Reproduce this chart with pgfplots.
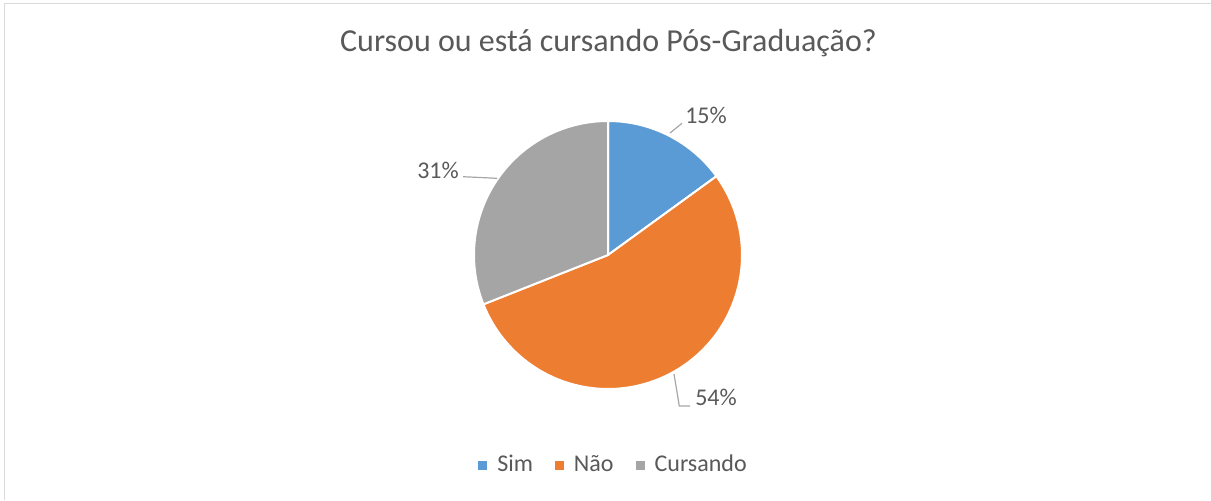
\documentclass[border=0pt]{standalone}
\usepackage{fontspec}
\setmainfont{Carlito}
\usepackage{pgfplots}
\pgfplotsset{compat=1.18}

\definecolor{simblue}{HTML}{5B9BD5}
\definecolor{naoorange}{HTML}{ED7D31}
\definecolor{curgray}{HTML}{A5A5A5}
\definecolor{txt}{HTML}{595959}
\definecolor{leader}{HTML}{A6A6A6}
\definecolor{frame}{HTML}{D9D9D9}

% shares in percent
\def\vSim{15}
\def\vNao{54}
\def\vCur{31}

\begin{document}
\begin{tikzpicture}
\pgfmathsetmacro\aA{90}
\pgfmathsetmacro\aB{\aA-3.6*\vSim}
\pgfmathsetmacro\aC{\aB-3.6*\vNao}
\pgfmathsetmacro\aD{\aC-3.6*\vCur}
\begin{axis}[
  scale only axis,
  width=605.5pt, height=250pt,
  xmin=0, xmax=1211, ymin=0, ymax=500,
  hide axis, clip=false,
  samples=80,
  legend columns=3,
  legend style={draw=none, at={(axis cs:614.5,35)}, anchor=center,
    font=\fontsize{12}{14}\selectfont, text=txt,
    /tikz/every odd column/.append style={column sep=3pt},
    /tikz/every even column/.append style={column sep=9pt}},
  legend image code/.code={\fill[#1, draw=none] (0pt,-2.25pt) rectangle (4.5pt,2.25pt);},
]
\addplot[fill=simblue, draw=white, line width=1pt, domain=\aB:\aA]
  ({608+134*cos(x)}, {245+134*sin(x)}) -- (axis cs:608,245) -- cycle;
\addlegendentry{Sim}
\addplot[fill=naoorange, draw=white, line width=1pt, domain=\aC:\aB]
  ({608+134*cos(x)}, {245+134*sin(x)}) -- (axis cs:608,245) -- cycle;
\addlegendentry{Não}
\addplot[fill=curgray, draw=white, line width=1pt, domain=\aD:\aC]
  ({608+134*cos(x)}, {245+134*sin(x)}) -- (axis cs:608,245) -- cycle;
\addlegendentry{Cursando}

% frame
\draw[frame, line width=0.75pt] (axis cs:4.5,0) -- (axis cs:4.5,496.5) -- (axis cs:1211,496.5);

% title
\node[anchor=base, text=txt, font=\fontsize{16}{19}\selectfont, inner sep=0pt]
  at (axis cs:608.5,448.3) {Cursou ou está cursando Pós-Graduação?};

% data labels and leader lines
\draw[leader, line width=0.6pt] (axis cs:670,367) -- (axis cs:682,376.7);
\node[anchor=base, text=txt, font=\fontsize{12}{14}\selectfont, inner sep=0pt]
  at (axis cs:706,376.7) {15\%};
\draw[leader, line width=0.6pt] (axis cs:463,323.3) -- (axis cs:497,321.7);
\node[anchor=base, text=txt, font=\fontsize{12}{14}\selectfont, inner sep=0pt]
  at (axis cs:438,322) {31\%};
\draw[leader, line width=0.6pt] (axis cs:674,126) -- (axis cs:679.3,94) -- (axis cs:690,94);
\node[anchor=base, text=txt, font=\fontsize{12}{14}\selectfont, inner sep=0pt]
  at (axis cs:716,94.3) {54\%};

\coordinate (BL) at (axis cs:0,0);
\coordinate (TR) at (axis cs:1211,500);
\end{axis}
\pgfresetboundingbox
\path (BL) rectangle (TR);
\end{tikzpicture}
\end{document}
